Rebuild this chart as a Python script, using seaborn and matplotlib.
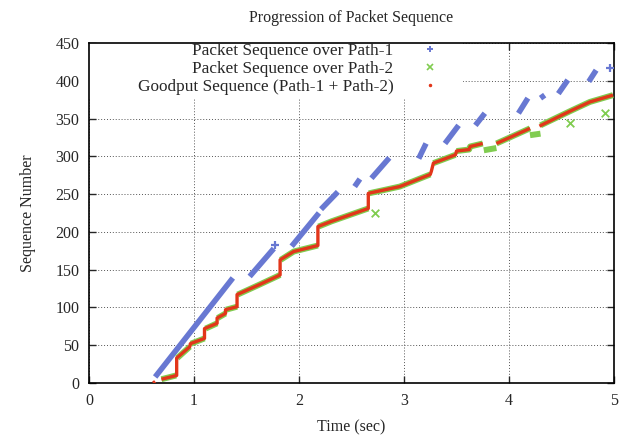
import numpy as np
import pandas as pd
import matplotlib
matplotlib.use("Agg")
import matplotlib.pyplot as plt
from matplotlib.lines import Line2D
from matplotlib.patches import Rectangle
import seaborn as sns

# Path-1 packets (blue), each run of packets read as a segment
blue_seg = [0, 0, 1, 1, 2, 2, 3, 3, 4, 4, 5, 5, 6, 6, 7, 7, 8, 8, 9, 9, 10, 10, 11, 11, 12, 12]
blue_t = [0.63, 1.37, 1.53, 1.76, 1.93, 2.19, 2.21, 2.37, 2.53, 2.58, 2.69, 2.86,
          3.14, 3.21, 3.39, 3.52, 3.68, 3.77, 4.09, 4.18, 4.30, 4.34, 4.47, 4.56, 4.76, 4.83]
blue_seq = [8, 139, 141, 178, 181, 225, 230, 253, 260, 270, 271, 298,
            297, 317, 317, 341, 341, 357, 357, 377, 377, 381, 383, 401, 399, 414]
blue_single_t = [1.77, 4.96]
blue_single_seq = [183, 417]

# Path-2 packets (green)
green_seg = [0, 0, 1, 1, 2, 2, 3, 3, 4, 4, 5, 5, 6, 6, 6, 7, 7, 7, 8, 8, 8, 9, 9, 9,
             10, 10, 11, 11, 11, 11, 12, 12, 13, 13, 14, 14, 15, 15, 15, 15, 15]
green_t = [0.69, 0.83, 0.84, 0.96, 0.97, 1.10, 1.11, 1.22, 1.225, 1.30, 1.305, 1.41,
           1.415, 1.62, 1.82, 1.825, 1.95, 2.18, 2.185, 2.31, 2.66, 2.665, 2.96, 3.25,
           3.28, 3.49, 3.50, 3.62, 3.63, 3.75, 3.76, 3.88, 3.88, 4.20, 4.20, 4.30,
           4.30, 4.57, 4.60, 4.77, 4.99]
green_seq = [5, 10, 33, 48, 52, 59, 72, 79, 86, 92, 97, 101,
             117, 130, 143, 163, 174, 182, 207, 214, 231, 251, 260, 276,
             291, 302, 307, 309, 313, 317, 308, 311, 317, 337, 328, 330,
             341, 359, 361, 372, 381]
green_out_t = [2.72, 4.58, 4.91]
green_out_seq = [225, 344, 358]

# Goodput sequence (red)
red_seg = [0, 0] + [1] * 31 + [2, 2] + [3] * 5
red_t = [0.61, 0.63,
         0.69, 0.835, 0.835, 0.96, 0.965, 1.10, 1.10, 1.22, 1.22, 1.30, 1.30, 1.41, 1.41,
         1.62, 1.82, 1.82, 1.95, 2.18, 2.18, 2.31, 2.66, 2.66, 2.96, 3.25, 3.26, 3.28,
         3.49, 3.50, 3.62, 3.63, 3.75,
         3.88, 4.20,
         4.29, 4.57, 4.60, 4.77, 4.99]
red_seq = [0, 2,
           5, 10, 33, 48, 52, 59, 72, 79, 86, 92, 97, 101, 117,
           130, 143, 163, 174, 182, 207, 214, 231, 251, 260, 276, 280, 291,
           302, 307, 309, 313, 317,
           317, 337,
           340, 359, 361, 372, 381]

labels = ["Packet Sequence over Path-1", "Packet Sequence over Path-2",
          "Goodput Sequence (Path-1 + Path-2)"]
BLUE, GREEN, RED = "#6878d2", "#80cc50", "#e2361a"

sns.set_style("ticks")
plt.rcParams['font.family'] = ['Liberation Serif', 'DejaVu Serif']
plt.rcParams['font.size'] = 11.5

blue = pd.DataFrame({'t': blue_t, 'seq': blue_seq, 'seg': blue_seg})
green = pd.DataFrame({'t': green_t, 'seq': green_seq, 'seg': green_seg})
red = pd.DataFrame({'t': red_t, 'seq': red_seq, 'seg': red_seg})

fig = plt.figure(figsize=(6.22, 4.38), dpi=100)
ax = fig.add_axes([89 / 622, 55 / 438, 525 / 622, 340 / 438])

sns.lineplot(data=blue, x='t', y='seq', units='seg', estimator=None, sort=False,
             color=BLUE, lw=4.0, solid_capstyle='butt', ax=ax, zorder=3)
sns.scatterplot(x=blue_single_t, y=blue_single_seq, marker='+', s=40, color=BLUE,
                linewidth=1.6, ax=ax, zorder=3)
sns.lineplot(data=green, x='t', y='seq', units='seg', estimator=None, sort=False,
             color=GREEN, lw=4.3, solid_capstyle='butt', ax=ax, zorder=4)
sns.scatterplot(x=green_out_t, y=green_out_seq, marker='x', s=30, color=GREEN,
                linewidth=1.3, ax=ax, zorder=4)
sns.lineplot(data=red, x='t', y='seq', units='seg', estimator=None, sort=False,
             color=RED, lw=2.4, solid_capstyle='butt', ax=ax, zorder=5)

ax.set_xlim(0, 5)
ax.set_ylim(0, 450)
ax.set_xticks(range(0, 6))
ax.set_yticks(range(0, 451, 50))
ax.grid(True, color='#555555', ls=(0, (1, 2)), lw=0.7)
ax.set_axisbelow(True)
ax.tick_params(direction='in', top=True, right=True, length=5, width=1,
               labelsize=11.5, pad=7)
for s in ax.spines.values():
    s.set_linewidth(1.2)
    s.set_color('black')

# white area behind the key
ax.add_patch(Rectangle((0, 0.838), 0.712, 0.162, transform=ax.transAxes,
                       fc='white', ec='none', zorder=1))

handles = [Line2D([], [], ls='none', marker='+', color=BLUE, ms=5, mew=1.4),
           Line2D([], [], ls='none', marker='x', color=GREEN, ms=4, mew=1.2),
           Line2D([], [], ls='none', marker='.', color=RED, ms=3)]
ax.legend(handles, labels, loc='upper right', bbox_to_anchor=(0.665, 1.0),
          frameon=False, markerfirst=False, handlelength=1.0, handletextpad=1.6,
          borderpad=0, borderaxespad=0, labelspacing=0.1, fontsize=12.4)

ax.set_title('Progression of Packet Sequence', fontsize=11.5, pad=15)
ax.set_xlabel('Time (sec)', fontsize=11.5, labelpad=8)
ax.set_ylabel('Sequence Number', fontsize=11.5, labelpad=14)

fig.savefig('out.png', dpi=100)
